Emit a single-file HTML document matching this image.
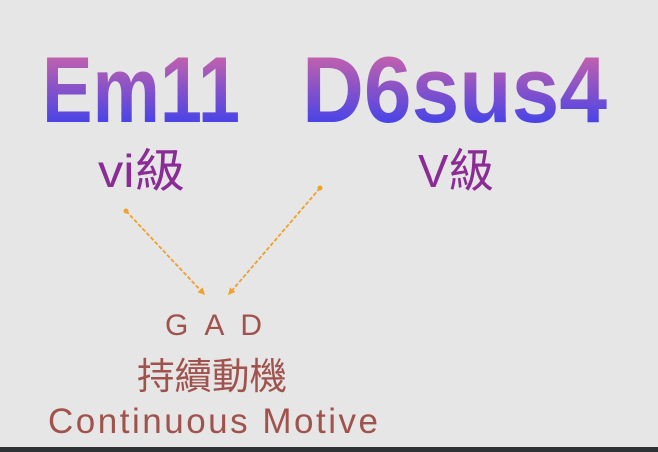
<!DOCTYPE html>
<html><head><meta charset="utf-8">
<style>
html,body{margin:0;padding:0;background:#e6e6e6;}
svg{display:block;}
</style></head>
<body>
<svg width="658" height="452" viewBox="0 0 658 452" xmlns="http://www.w3.org/2000/svg">
<defs>
<linearGradient id="g" x1="0" y1="53" x2="0" y2="122" gradientUnits="userSpaceOnUse">
<stop offset="0" stop-color="#c862aa"/>
<stop offset="1" stop-color="#4a44e6"/>
</linearGradient>
<marker id="ah" viewBox="0 0 10 10" refX="8" refY="5" markerWidth="4" markerHeight="4" orient="auto">
<path d="M0,0 L10,5 L0,10 z" fill="#f0a22e"/>
</marker>
</defs>
<rect width="658" height="452" fill="#e6e6e6"/>
<rect y="447" width="658" height="5" fill="#2e3235"/>
<g font-family="'Liberation Sans', 'DejaVu Sans', sans-serif" font-weight="bold" fill="url(#g)" font-size="94">
<text x="42" y="122" textLength="198" lengthAdjust="spacingAndGlyphs">Em11</text>
<text x="302" y="122" textLength="305" lengthAdjust="spacingAndGlyphs">D6sus4</text>
</g>
<g font-family="'Liberation Sans','Noto Sans CJK TC',sans-serif" fill="#8a2b96" font-size="46">
<text x="98" y="187" textLength="87" lengthAdjust="spacingAndGlyphs">vi級</text>
<text x="418" y="187" textLength="76" lengthAdjust="spacingAndGlyphs">V級</text>
</g>
<g stroke="#eea02c" stroke-width="1.8" stroke-dasharray="4,2" fill="none">
<line x1="126" y1="211" x2="204" y2="294" marker-end="url(#ah)"/>
<line x1="320" y1="188" x2="229" y2="294" marker-end="url(#ah)"/>
</g>
<circle cx="126" cy="211" r="2.5" fill="#f0a22e"/>
<circle cx="320" cy="188" r="2.5" fill="#f0a22e"/>
<g font-family="'Liberation Sans','Noto Sans CJK TC',sans-serif" fill="#a0524c">
<text x="165" y="335" font-size="30" textLength="97" lengthAdjust="spacing">GAD</text>
<text x="137" y="389" font-size="37" textLength="150" lengthAdjust="spacingAndGlyphs">持續動機</text>
<text x="48" y="433" font-size="35" textLength="330" lengthAdjust="spacing">Continuous Motive</text>
</g>
</svg>
</body></html>
